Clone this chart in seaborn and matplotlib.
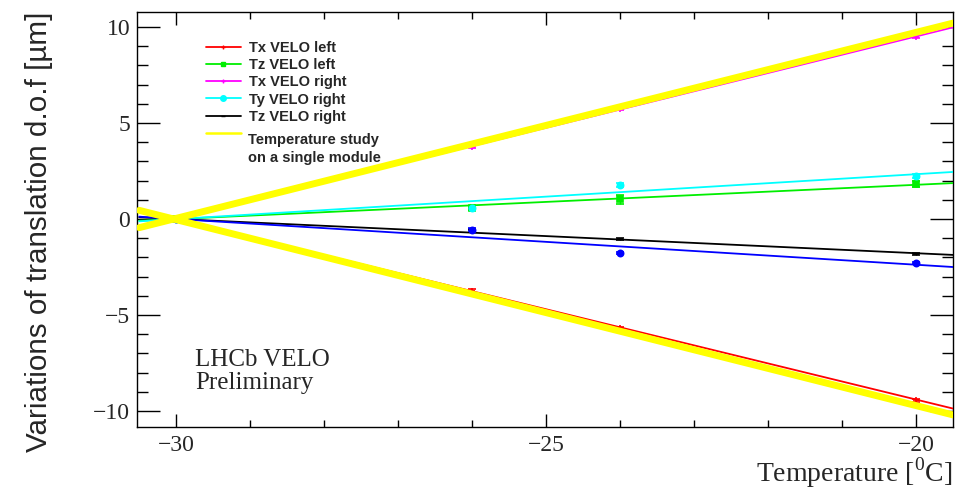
import numpy as np
import pandas as pd
import matplotlib
matplotlib.use("Agg")
import matplotlib.pyplot as plt
from matplotlib.lines import Line2D
from matplotlib.ticker import MultipleLocator
import seaborn as sns

# ---- data ----
temps = [-30, -26, -24, -20]
fit_x = [-30.5, -19.5]

tx_left = [0.0, -3.75, -5.68, -9.45]
tx_left_err = [0.03, 0.08, 0.08, 0.08]
tx_left_fit = [0.47, -9.87]

tz_left = [0.0, 0.55, 1.02, 1.82]
tz_left_err = [0.05, 0.10, 0.22, 0.14]
tz_left_fit = [-0.09, 1.87]

tx_right = [0.0, 3.75, 5.75, 9.5]
tx_right_err = [0.03, 0.06, 0.06, 0.06]
tx_right_fit = [-0.48, 9.98]

ty_right = [0.0, 0.58, 1.77, 2.24]
ty_right_err = [0.03, 0.06, 0.08, 0.08]
ty_right_fit = [-0.12, 2.45]

tz_right = [0.0, -0.55, -1.04, -1.82]
tz_right_err = [0.02, 0.03, 0.03, 0.03]
tz_right_fit = [0.09, -1.87]

ty_left = [0.0, -0.55, -1.78, -2.28]
ty_left_err = [0.03, 0.06, 0.06, 0.06]
ty_left_fit = [0.12, -2.5]

temp_study_up = [-0.45, 10.2]
temp_study_down = [0.45, -10.2]

labels = ["Tx VELO left", "Tz VELO left", "Tx VELO right", "Ty VELO right",
          "Tz VELO right", " "]
study_label = ["Temperature study", "on a single module"]

# ---- style ----
sns.set_theme(style="ticks")
plt.rcParams["font.family"] = ["Liberation Serif", "DejaVu Serif"]
plt.rcParams["mathtext.fontset"] = "custom"
plt.rcParams["mathtext.rm"] = "Liberation Serif"

fig = plt.figure(figsize=(9.76, 4.93), dpi=100)
ax = fig.add_axes([0.1404, 0.1339, 0.8360, 0.8418])

series = [
    (tx_left, tx_left_err, tx_left_fit, "#ff0000", "+", 4),
    (tz_left, tz_left_err, tz_left_fit, "#00ee00", "s", 4),
    (tx_right, tx_right_err, tx_right_fit, "#ff00ff", "+", 4),
    (ty_right, ty_right_err, ty_right_fit, "#00ffff", "o", 4.5),
    (tz_right, tz_right_err, tz_right_fit, "#000000", "_", 4),
    (ty_left, ty_left_err, ty_left_fit, "#0000ff", "o", 4.5),
]

for vals, errs, fit, col, mk, ms in series:
    df_fit = pd.DataFrame({"T": fit_x, "v": fit})
    sns.lineplot(data=df_fit, x="T", y="v", color=col, lw=1.3, ax=ax,
                 legend=False, zorder=3)
    ax.errorbar(temps, vals, yerr=errs, fmt=mk, color=col, ms=ms, mew=1.2,
                elinewidth=1.0, capsize=3, zorder=4)

for fit in (temp_study_up, temp_study_down):
    df_fit = pd.DataFrame({"T": fit_x, "v": fit})
    sns.lineplot(data=df_fit, x="T", y="v", color="#ffff00", lw=5, ax=ax,
                 legend=False, zorder=5)

ax.set_xlim(-30.53, -19.5)
ax.set_ylim(-10.83, 10.78)
ax.xaxis.set_major_locator(MultipleLocator(5))
ax.xaxis.set_minor_locator(MultipleLocator(1))
ax.yaxis.set_major_locator(MultipleLocator(5))
ax.yaxis.set_minor_locator(MultipleLocator(1))
ax.tick_params(axis="both", which="both", direction="in", top=True, right=True,
               color="black", width=1.0)
ax.tick_params(axis="x", which="major", length=9.5, labelsize=17, pad=6)
ax.tick_params(axis="x", which="minor", length=5)
ax.tick_params(axis="y", which="major", length=16.5, labelsize=17, pad=5)
ax.tick_params(axis="y", which="minor", length=8)
for sp in ax.spines.values():
    sp.set_color("black")
    sp.set_linewidth(1.0)

ax.set_xlabel("")
ax.set_ylabel("")
fig.text(0.040, 0.529, "Variations of translation d.o.f [\u00b5m]", rotation=90,
         ha="center", va="center", fontsize=21.3, family=["Liberation Sans", "DejaVu Sans"])
fig.text(0.976, 0.024, "Temperature [$^{0}$C]", ha="right", va="baseline", fontsize=20)

ax.text(0.071, 0.161, "LHCb VELO", transform=ax.transAxes, fontsize=18, va="center")
ax.text(0.071, 0.106, "Preliminary", transform=ax.transAxes, fontsize=18, va="center")

handles = []
for (vals, errs, fit, col, mk, ms) in series[:5]:
    handles.append(Line2D([0], [0], color=col, lw=1.3, marker=mk, ms=ms - 0.5, mew=1.0))
handles.append(Line2D([0], [0], color="#ffff00", lw=1.8))
leg = ax.legend(handles, labels, loc="upper left", bbox_to_anchor=(0.068, 0.962),
                frameon=False, handlelength=2.4, handletextpad=0.55, labelspacing=0.22,
                prop={"family": "Liberation Sans", "weight": "bold", "size": 10.5})

for i, line in enumerate(study_label):
    ax.text(0.1365, 0.6916 - 0.0434 * i, line, transform=ax.transAxes, va="center",
            ha="left", fontsize=10.5, fontweight="bold", family="Liberation Sans")

fig.savefig("out.png", dpi=100)
